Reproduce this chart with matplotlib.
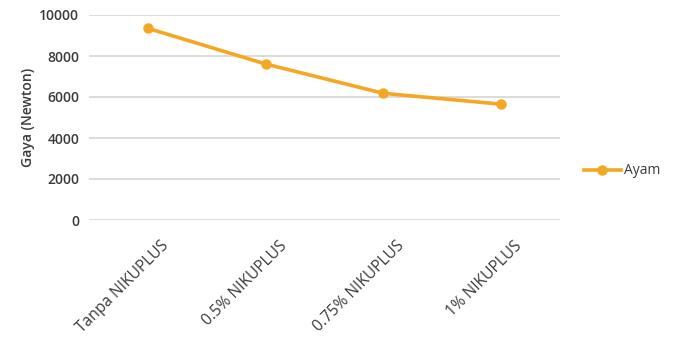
import matplotlib
matplotlib.use("Agg")
import matplotlib.pyplot as plt
from matplotlib.transforms import ScaledTranslation

categories = ["Tanpa NIKUPLUS", "0.5% NIKUPLUS", "0.75% NIKUPLUS", "1% NIKUPLUS"]
ayam = [9350, 7610, 6180, 5650]
yticks = [0, 2000, 4000, 6000, 8000, 10000]

plt.rcParams['font.family'] = ['Open Sans', 'DejaVu Sans']

W, H = 674, 339
fig = plt.figure(figsize=(W/100, H/100), dpi=100)
ax = fig.add_axes([89/W, 1-220/H, (560-89)/W, (220-15)/H])

color = '#F5A623'
tcolor = '#3a3a3a'
x = list(range(len(categories)))
ax.plot(x, ayam, color=color, lw=2.6, marker='o', ms=6.5, label='Ayam')

ax.set_xlim(-0.5, len(categories)-0.5)
ax.set_ylim(0, 10000)
ax.set_yticks(yticks)
ax.set_yticklabels([str(v) for v in yticks], fontsize=10, color=tcolor, fontweight='semibold')
ax.yaxis.grid(True, color='#d9d9d9', lw=1.3)
ax.set_axisbelow(True)
for s in ax.spines.values():
    s.set_visible(False)
ax.tick_params(axis='both', length=0)
ax.tick_params(axis='y', pad=7)
ax.set_xticks(x)
ax.set_xticklabels(categories, rotation=45, ha='right', va='top', rotation_mode='anchor',
                   fontsize=11.2, color=tcolor)
ax.tick_params(axis='x', pad=0)
offset = ScaledTranslation(13/100, -18/100, fig.dpi_scale_trans)
for lab in ax.get_xticklabels():
    lab.set_transform(lab.get_transform() + offset)

ax.set_ylabel("Gaya (Newton)", fontsize=10, color=tcolor, fontweight='semibold', labelpad=3)

leg = fig.legend(handles=ax.get_lines(), labels=['Ayam'], loc='center left',
                 bbox_to_anchor=(571/W, 1-171/H), frameon=False, fontsize=10,
                 handlelength=2.7, handletextpad=0.2, labelcolor=tcolor)

fig.savefig("out.png", dpi=100)
